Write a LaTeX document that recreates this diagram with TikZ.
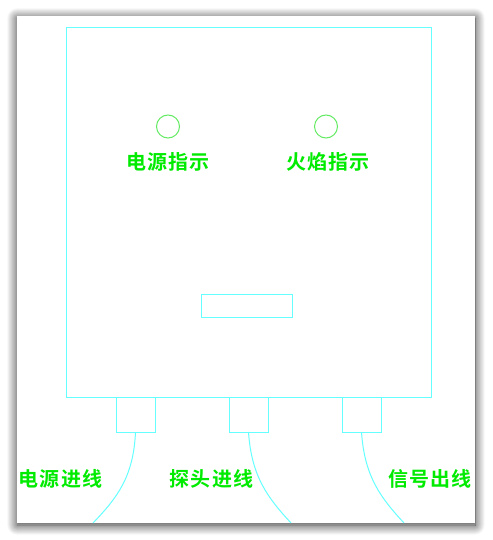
\documentclass[tikz,border=0pt]{standalone}
\usepackage{fontspec}
\newfontfamily\cjk[LetterSpace=6]{Noto Sans CJK SC Bold}
\usetikzlibrary{shadows.blur}
\definecolor{boxcyan}{RGB}{102,255,255}
\definecolor{ledgreen}{RGB}{100,235,100}
\definecolor{labelgreen}{RGB}{0,235,0}
\begin{document}
\begin{tikzpicture}[x=1pt,y=-1pt,font=\cjk\fontsize{20}{20}\selectfont]
      \tikzstyle{outline}=[draw=boxcyan,line width=1pt,inner sep=0,outer sep=0]
      \tikzstyle{gland}=[outline,minimum width=39pt,minimum height=35pt]
      \tikzstyle{led}=[circle,draw=ledgreen,line width=1pt,minimum size=23pt,inner sep=0]
      \tikzstyle{tag}=[text=labelgreen,inner sep=0]
      \tikzstyle{cable}=[draw=boxcyan,line width=1pt]
      \useasboundingbox (0,0) rectangle (492,540);

      % panel with shadow
      \fill[white,blur shadow={shadow xshift=0pt,shadow yshift=-2pt,shadow blur radius=10pt,shadow blur steps=14,shadow opacity=85}]
          (17,16) rectangle (475,523);

      % housing
      \node(housing)[outline,minimum width=365pt,minimum height=369pt] at (248.5,212.5){};
      \node(display)[outline,minimum width=91pt,minimum height=23pt] at (246.5,305.5){};

      % indicators
      \node(powerled)[led] at (168,126.5){};
      \node(flameled)[led] at (326,126.5){};
      \node(powertag)[tag] at (168,162){电源指示};
      \node(flametag)[tag] at (328,162){火焰指示};

      % cable glands
      \node(gland1)[gland,anchor=north] at (135.5,397){};
      \node(gland2)[gland,anchor=north] at (248.5,397){};
      \node(gland3)[gland,anchor=north] at (361.5,397){};

      \coordinate(end1) at (93,523);
      \coordinate(end2) at (291,523);
      \coordinate(end3) at (404,523);
      \draw[cable] (gland1.south) .. controls ++(-2,45) and ++(24,-25) .. (end1);
      \draw[cable] (gland2.south) .. controls ++(3,45) and ++(-23,-25) .. (end2);
      \draw[cable] (gland3.south) .. controls ++(3,45) and ++(-23,-25) .. (end3);

      \node(powerin)[tag] at (60.5,479){电源进线};
      \node(probein)[tag] at (211.5,479){探头进线};
      \node(signalout)[tag] at (430,479){信号出线};
\end{tikzpicture}
\end{document}
